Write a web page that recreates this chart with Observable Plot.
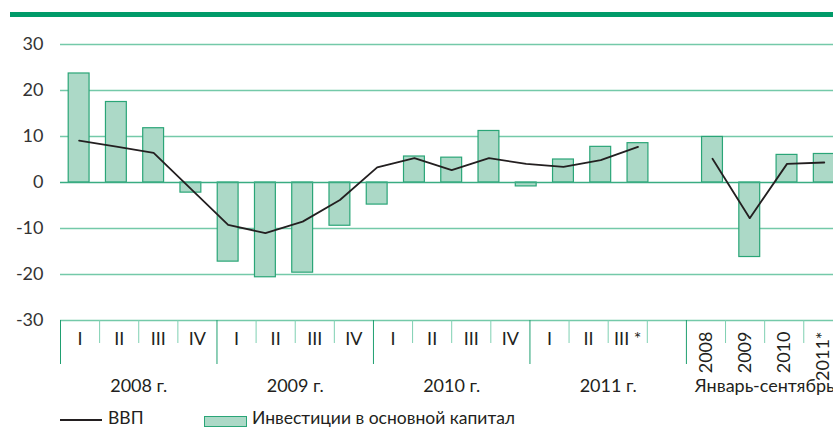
<!DOCTYPE html>
<html><head><meta charset="utf-8">
<script src="https://cdn.jsdelivr.net/npm/d3@7"></script>
<script src="https://cdn.jsdelivr.net/npm/@observablehq/plot@0.6"></script>
<style>
body{margin:0;width:833px;height:429px;overflow:hidden;position:relative;background:#fff;font-family:Lato,"Open Sans",sans-serif;color:#231f20;}
#chart{position:absolute;left:0;top:0;}
#topbar{position:absolute;left:10px;right:0;top:12px;height:5px;background:#009b69;}
.lg{position:absolute;top:410px;height:16px;line-height:16px;font-size:17.5px;white-space:nowrap;}
.sw-line{position:absolute;left:60px;top:419px;width:42px;height:2px;background:#231f20;}
.sw-box{position:absolute;left:204px;top:416px;width:41px;height:9px;background:#acd9c7;border:1px solid #2aa577;}
</style></head>
<body>
<div id="chart"></div>
<div id="topbar"></div>
<div class="sw-line"></div><div class="lg" style="left:108px">ВВП</div>
<div class="sw-box"></div><div class="lg" style="left:252px">Инвестиции в основной капитал</div>
<script>
// data slots: 16 quarterly points, an empty gap, 4 annual (Jan–Sep) points
const slots = ["2008 I","2008 II","2008 III","2008 IV","2009 I","2009 II","2009 III","2009 IV",
  "2010 I","2010 II","2010 III","2010 IV","2011 I","2011 II","2011 III","2011 IV",
  "", "2008","2009","2010","2011"];
const investments = [23.7,17.5,11.8,-2.2,-17.2,-20.6,-19.6,-9.4,-4.8,5.65,5.4,11.2,-0.85,5.0,7.75,8.55,null,9.9,-16.2,6.0,6.2];
const gdp = [9.1,7.8,6.45,-1.4,-9.2,-11.0,-8.5,-3.8,3.3,5.3,2.7,5.3,4.05,3.4,4.85,7.75,null,5.15,-7.75,4.05,4.35];

// axis labels
const quarterLabels = ["I","II","III","IV","I","II","III","IV","I","II","III","IV","I","II","III *"];
const annualLabels = ["2008","2009","2010","2011*"];
const groupLabels = ["2008 г.","2009 г.","2010 г.","2011 г.","Январь-сентябрь"];
const groupBounds = [0,4,8,12,16,20];
const yTicks = [-30,-20,-10,0,10,20,30];

const data = slots.map((s,i)=>({slot:s, i, inv:investments[i], gdp:gdp[i]}));
const bars = data.filter(d=>d.inv!=null);
const axisStep = slots.length / 20; // axis has 20 label slots across the same span
const pxY = 60/276;
const boundaries = d3.range(0,21);
const gridC = "#74c9a9", darkC = "#1f9f70";
const font = "Lato, 'Open Sans', sans-serif";

const chart = Plot.plot({
  width: 833, height: 405, marginLeft: 60, marginRight: 0, marginTop: 20, marginBottom: 20,
  style: {fontFamily: font, color:"#231f20", background:"transparent", overflow:"visible"},
  x: {domain:[0, slots.length], range:[60, 842.4], axis:null},
  y: {domain:[-30,30], range:[320,44], label:null},
  marks: [
    Plot.axisY({ticks: yTicks, tickSize:0, tickPadding:17, tickFormat:d=>String(d), fontSize:18, label:null, fill:"#333"}),
    Plot.ruleY(yTicks.filter(v=>v!==0), {stroke:gridC, strokeWidth:1.3}),
    Plot.rect(bars, {x1:d=>d.i+0.5-0.28, x2:d=>d.i+0.5+0.28, y1:0, y2:"inv", fill:"#acd9c7", stroke:"#2aa577", strokeWidth:1.2}),
    Plot.ruleY([0], {stroke:"#3aac82", strokeWidth:1.5}),
    Plot.line(data, {x:d=>d.i+0.5, y:"gdp", stroke:"#231f20", strokeWidth:1.8}),
    Plot.ruleX(boundaries, {x:b=>b*axisStep, y1:-30, y2:b=>groupBounds.includes(b)? -30-44*pxY : -30-23*pxY,
      stroke:b=>groupBounds.includes(b)?"long":"short"}),
    Plot.text(quarterLabels, {x:(d,i)=>(i+0.5)*axisStep, y:-30, dy:19, text:d=>d, fontSize:18, fill:"#231f20"}),
    Plot.text(annualLabels, {x:(d,i)=>(16+i+0.5)*axisStep, y:-30, dy:11, text:d=>d, rotate:-90, textAnchor:"end", fontSize:18, fill:"#231f20"}),
    Plot.text(groupLabels, {x:(d,i)=>(groupBounds[i]+groupBounds[i+1])/2*axisStep, y:-30, dy:66, text:d=>d, fontSize:18, fill:"#231f20"})
  ],
  color: {domain:["long","short"], range:[darkC, "#7fd0b2"]}
});
document.getElementById("chart").appendChild(chart);
</script>
</body></html>
